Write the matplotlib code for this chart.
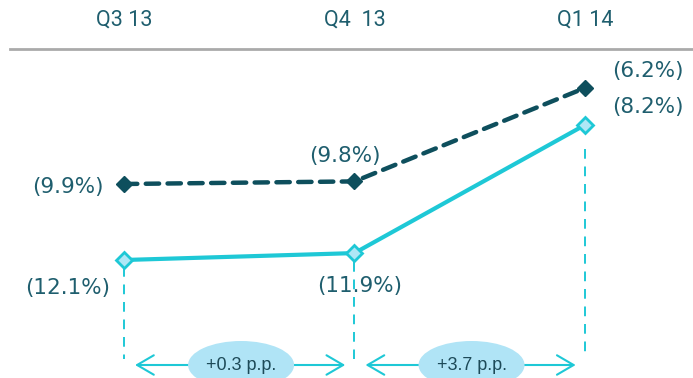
import matplotlib
matplotlib.use("Agg")
import matplotlib.pyplot as plt
from matplotlib.patches import Ellipse
from matplotlib.transforms import blended_transform_factory

# ---- data ----
quarters = ["Q3 13", "Q4  13", "Q1 14"]
series_dark = [-9.9, -9.8, -6.2]
series_light = [-12.1, -11.9, -8.2]
dark_labels = ["(9.9%)", "(9.8%)", "(6.2%)"]
light_labels = ["(12.1%)", "(11.9%)", "(8.2%)"]
delta_labels = ["+0.3 p.p.", "+3.7 p.p."]

# ---- style ----
DARK = "#0e4f5d"
LIGHT = "#1ec8d6"
LIGHT_FILL = "#aee7f6"
TEXT = "#1f5e6e"
ELL = "#b0e4f6"

fig = plt.figure(figsize=(6.93, 3.78), dpi=100)
ax = fig.add_axes([0, 0, 1, 1])
ax2 = ax.twinx()
x = list(range(len(quarters)))
for a in (ax, ax2):
    a.set_xlim(-0.538, 2.469)
    a.axis("off")
ax.set_ylim(-17.376, -2.81)
ax2.set_ylim(-15.508, -4.59)

ax.plot(x, series_dark, color=DARK, lw=3.2, ls=(0, (3.0, 1.9)),
        marker="D", ms=8.5, mfc=DARK, mec=DARK, zorder=3, dash_capstyle="round")
ax2.plot(x, series_light, color=LIGHT, lw=3.0, marker="D", ms=8.5,
         mfc=LIGHT_FILL, mec=LIGHT, mew=2, zorder=3)

dark_off = [(-56, -3), (-10, 25), (63, 17)]
light_off = [(-56, -28), (5, -33), (63, 18)]
for i in x:
    ax.annotate(dark_labels[i], (x[i], series_dark[i]), xytext=dark_off[i],
                textcoords="offset pixels", ha="center", va="center",
                fontsize=15.5, color=TEXT, family="DejaVu Sans", zorder=5)
    ax2.annotate(light_labels[i], (x[i], series_light[i]), xytext=light_off[i],
                 textcoords="offset pixels", ha="center", va="center",
                 fontsize=15.5, color=TEXT, family="DejaVu Sans", zorder=5)

# header
tr = blended_transform_factory(ax.transData, ax.transAxes)
for i, q in enumerate(quarters):
    ax.text(x[i], 1 - 20 / 378, q, transform=tr, ha="center", va="center",
            fontsize=15.5, color=TEXT, family="Roboto")
ax.plot([10 / 693, 1], [1 - 49 / 378, 1 - 49 / 378], transform=ax.transAxes,
        color="#aaaaaa", lw=2, clip_on=False)

# vertical dashed guides
guide_start = [-12.3, -12.15, -8.9]
for i in x:
    ax2.plot([x[i], x[i]], [guide_start[i], -14.95], color=LIGHT, lw=1.4,
             ls=(0, (5, 4)), zorder=1)

# arrows and ellipses
ya = 1 - 365 / 378
for i in range(len(delta_labels)):
    ax.annotate("", xy=(x[i] + 0.048, ya), xytext=(x[i + 1] - 0.04, ya),
                xycoords=tr, textcoords=tr,
                arrowprops=dict(arrowstyle="<->,head_length=1.2,head_width=0.7",
                                mutation_scale=10, lw=1.5, color=LIGHT,
                                shrinkA=0, shrinkB=0), zorder=2)
    cx = (x[i] + x[i + 1]) / 2 + 0.008
    e = Ellipse((cx, ya), 0.46, 48 / 378, transform=tr, facecolor=ELL,
                edgecolor="none", zorder=3)
    ax.add_patch(e)
    ax.text(cx, ya, delta_labels[i], transform=tr, ha="center", va="center",
            fontsize=13, color="#1d4a58", family="Liberation Sans", zorder=4)

fig.savefig("out.png", dpi=100)
